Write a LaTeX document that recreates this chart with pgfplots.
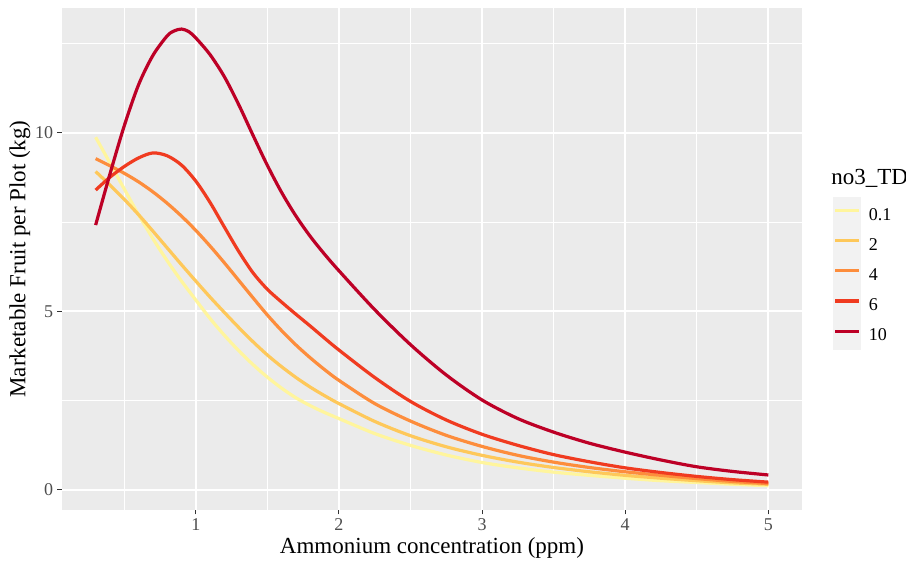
\documentclass[border=0pt]{standalone}
\usepackage{fontspec}
\setmainfont{Liberation Serif}
\usepackage{pgfplots}
\pgfplotsset{compat=1.18}
\definecolor{panelbg}{HTML}{EBEBEB}
\definecolor{tickgrey}{HTML}{4D4D4D}
\definecolor{tickdark}{HTML}{333333}
\definecolor{keybg}{HTML}{F2F2F2}
\definecolor{cA}{HTML}{FFF59D}
\definecolor{cB}{HTML}{FEC85A}
\definecolor{cC}{HTML}{FD8D3C}
\definecolor{cD}{HTML}{F03B20}
\definecolor{cE}{HTML}{BD0026}
\begin{document}
\begin{tikzpicture}
\path[use as bounding box] (-31pt,-27.5pt) rectangle (422pt,255pt);
\begin{axis}[
  at={(0,0)}, anchor=south west,
  width=370pt, height=251pt, scale only axis,
  xmin=0.065, xmax=5.235, ymin=-0.56, ymax=13.5,
  axis background/.style={fill=panelbg},
  axis line style={draw=none},
  xtick={1,2,3,4,5}, ytick={0,5,10},
  minor xtick={0.5,1.5,2.5,3.5,4.5},
  minor ytick={2.5,7.5,12.5},
  grid=both,
  major grid style={white, line width=1pt},
  minor grid style={white, line width=0.5pt},
  tick pos=left, tick align=outside,
  major tick length=2.25pt, minor tick length=0pt,
  tick style={color=tickdark, line width=0.5pt},
  /pgf/number format/assume math mode=true,
  xticklabel style={font=\fontsize{9}{10}\selectfont, color=tickgrey, inner ysep=2pt},
  yticklabel style={font=\fontsize{9}{10}\selectfont, color=tickgrey, inner xsep=2pt},
  xlabel={Ammonium concentration (ppm)},
  ylabel={Marketable Fruit per Plot (kg)},
  xlabel style={at={(axis description cs:0.5,-0.0757)}, anchor=center, font=\fontsize{11.5}{13}\selectfont},
  ylabel style={at={(axis description cs:-0.0568,0.5)}, anchor=center, font=\fontsize{11.5}{13}\selectfont},
  legend style={at={(axis description cs:1.04189,0.6265)}, anchor=north west,
    draw=none, fill=none, inner sep=0pt, outer sep=0pt,
    row sep=0pt, column sep=4pt,
    font=\fontsize{9}{10}\selectfont,
    nodes={inner sep=0pt}},
  legend cell align=left,
  legend image code/.code={
    \path[draw=none, fill=none] (0pt,-5pt) rectangle (14pt,10.1pt);
    \draw[#1, line width=1.6pt] (1.2pt,2.6pt) -- (12.8pt,2.6pt);
  },
  every axis plot/.append style={line width=1.6pt, smooth, tension=0.5},
  clip mode=individual,
]
\fill[keybg] (axis description cs:1.04189,0.31873) rectangle (axis description cs:1.07973,0.62351);
\node[anchor=base west, font=\fontsize{11.5}{13}\selectfont, inner sep=0pt] at (axis description cs:1.0392,0.6474) {no3\_TD};
\addplot[cA] coordinates {
(0.3,9.88)(0.4,9.16)(0.5,8.43)(0.6,7.71)(0.7,7.04)(0.8,6.42)(0.9,5.85)(1.0,5.32)
(1.1,4.80)(1.2,4.33)(1.3,3.90)(1.4,3.51)(1.5,3.16)(1.6,2.85)(1.7,2.58)(1.8,2.36)
(1.9,2.17)(2.0,2.00)(2.25,1.58)(2.5,1.25)(2.75,0.98)(3.0,0.77)(3.25,0.62)(3.5,0.50)
(3.75,0.41)(4.0,0.33)(4.25,0.26)(4.5,0.21)(4.75,0.16)(5.0,0.12)};
\addlegendentry{0.1}
\addplot[cB] coordinates {
(0.3,8.92)(0.4,8.54)(0.5,8.14)(0.6,7.71)(0.7,7.25)(0.8,6.78)(0.9,6.31)(1.0,5.85)
(1.1,5.40)(1.2,4.97)(1.3,4.55)(1.4,4.15)(1.5,3.78)(1.6,3.45)(1.7,3.15)(1.8,2.88)
(1.9,2.64)(2.0,2.42)(2.25,1.92)(2.5,1.52)(2.75,1.21)(3.0,0.97)(3.25,0.78)(3.5,0.63)
(3.75,0.51)(4.0,0.41)(4.25,0.33)(4.5,0.26)(4.75,0.20)(5.0,0.16)};
\addlegendentry{2}
\addplot[cC] coordinates {
(0.3,9.28)(0.4,9.08)(0.5,8.87)(0.6,8.63)(0.7,8.35)(0.8,8.03)(0.9,7.67)(1.0,7.27)
(1.1,6.83)(1.2,6.36)(1.3,5.87)(1.4,5.38)(1.5,4.90)(1.6,4.46)(1.7,4.06)(1.8,3.70)
(1.9,3.37)(2.0,3.07)(2.25,2.42)(2.5,1.93)(2.75,1.53)(3.0,1.22)(3.25,0.97)(3.5,0.78)
(3.75,0.63)(4.0,0.51)(4.25,0.41)(4.5,0.32)(4.75,0.24)(5.0,0.18)};
\addlegendentry{4}
\addplot[cD] coordinates {
(0.3,8.40)(0.4,8.76)(0.5,9.06)(0.6,9.30)(0.7,9.44)(0.8,9.36)(0.9,9.10)(1.0,8.65)
(1.1,8.05)(1.2,7.36)(1.3,6.68)(1.4,6.08)(1.5,5.62)(1.6,5.26)(1.7,4.92)(1.8,4.59)
(1.9,4.25)(2.0,3.92)(2.25,3.15)(2.5,2.48)(2.75,1.96)(3.0,1.56)(3.25,1.25)(3.5,0.99)
(3.75,0.79)(4.0,0.62)(4.25,0.49)(4.5,0.38)(4.75,0.29)(5.0,0.22)};
\addlegendentry{6}
\addplot[cE] coordinates {
(0.3,7.42)(0.4,8.85)(0.5,10.20)(0.6,11.35)(0.7,12.17)(0.8,12.72)(0.85,12.86)(0.9,12.91)
(0.95,12.84)(1.0,12.66)(1.1,12.19)(1.2,11.57)(1.3,10.79)(1.4,9.93)(1.5,9.09)(1.6,8.33)
(1.7,7.67)(1.8,7.10)(1.9,6.60)(2.0,6.14)(2.25,5.05)(2.5,4.07)(2.75,3.22)(3.0,2.52)
(3.25,2.00)(3.5,1.62)(3.75,1.31)(4.0,1.06)(4.25,0.84)(4.5,0.65)(4.75,0.52)(5.0,0.42)};
\addlegendentry{10}
\end{axis}
\end{tikzpicture}
\end{document}
